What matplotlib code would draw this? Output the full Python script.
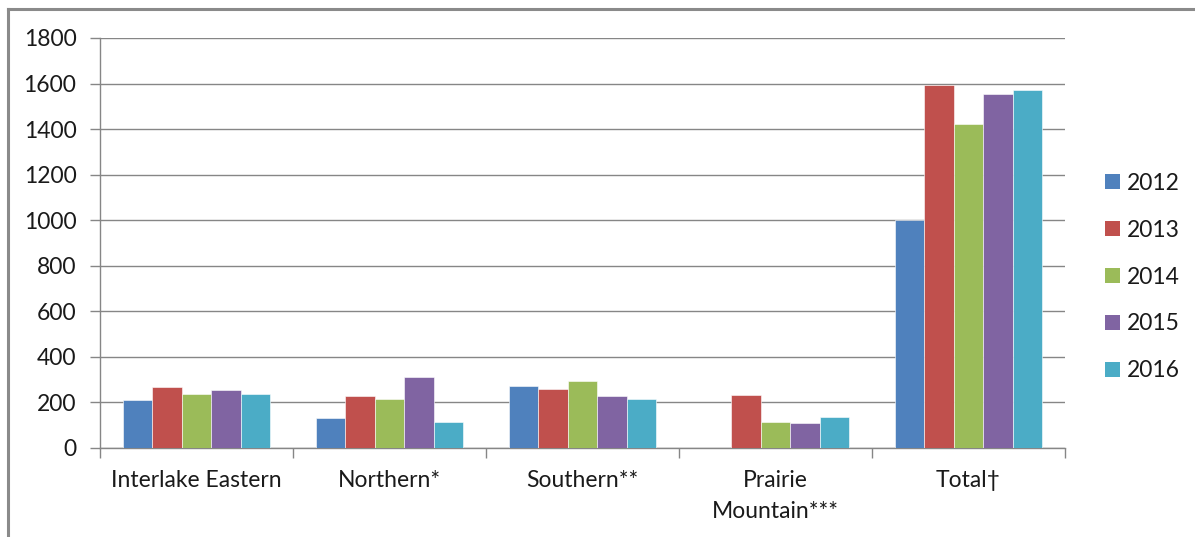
import matplotlib
matplotlib.use("Agg")
import matplotlib.pyplot as plt
import numpy as np
from matplotlib.lines import Line2D
from matplotlib.patches import Patch

categories = ["Interlake Eastern", "Northern*", "Southern**", "Prairie\nMountain***", "Total\u2020"]
years = ["2012", "2013", "2014", "2015", "2016"]
v2012 = [212, 131, 273, 0, 1000]
v2013 = [267, 229, 260, 231, 1592]
v2014 = [239, 217, 293, 115, 1424]
v2015 = [255, 310, 229, 110, 1554]
v2016 = [239, 115, 217, 137, 1570]
series = [v2012, v2013, v2014, v2015, v2016]
colors = ["#4F81BD", "#C0504D", "#9BBB59", "#8064A2", "#4BACC6"]

plt.rcParams["font.family"] = ["Lato", "DejaVu Sans"]
text_color = "#1a1a1a"
grid_color = "#868686"
fs = 16.5

W, H = 1195, 537
fig = plt.figure(figsize=(W / 100, H / 100), dpi=100)
ax = fig.add_axes([100 / W, 1 - 448 / H, (1065 - 100) / W, (448 - 38) / H])

x = np.arange(len(categories))
bw = 0.153
for i, (vals, c) in enumerate(zip(series, colors)):
    ax.bar(x + (i - 2) * bw, vals, width=bw, color=c, edgecolor="white", linewidth=0.4, zorder=3)

ax.set_xlim(-0.5, len(categories) - 0.5)
ax.set_ylim(0, 1800)
ax.set_yticks(np.arange(0, 1801, 200))
ax.yaxis.grid(True, color=grid_color, linewidth=1.0, zorder=0)
ax.set_axisbelow(True)

ax.set_xticks(x)
ax.set_xticklabels(categories, fontsize=fs, color=text_color, linespacing=1.55)
ax.set_xticks(np.arange(-0.5, len(categories), 1), minor=True)
ax.tick_params(axis="x", which="major", length=0, pad=16)
ax.tick_params(axis="x", which="minor", length=7, color=grid_color, width=1)
ax.tick_params(axis="y", length=7, color=grid_color, width=1, labelsize=fs, labelcolor=text_color, pad=10)

for s in ["top", "right"]:
    ax.spines[s].set_visible(False)
for s in ["left", "bottom"]:
    ax.spines[s].set_color(grid_color)
    ax.spines[s].set_linewidth(1.0)

handles = [Patch(facecolor=c, edgecolor="none") for c in colors]
fig.legend(handles, years, loc="center left", bbox_to_anchor=(1084 / W, 1 - 277 / H),
           frameon=False, fontsize=fs, labelcolor=text_color,
           handlelength=0.65, handleheight=0.65, handletextpad=0.3, labelspacing=1.13)

# outer chart border (top and left visible)
fig.add_artist(Line2D([8 / W, 1], [1 - 8.5 / H, 1 - 8.5 / H], color="#8a8a8a", linewidth=2.2, transform=fig.transFigure))
fig.add_artist(Line2D([8 / W, 8 / W], [0, 1 - 8.5 / H], color="#8a8a8a", linewidth=2.2, transform=fig.transFigure))

fig.savefig("out.png", dpi=100)
